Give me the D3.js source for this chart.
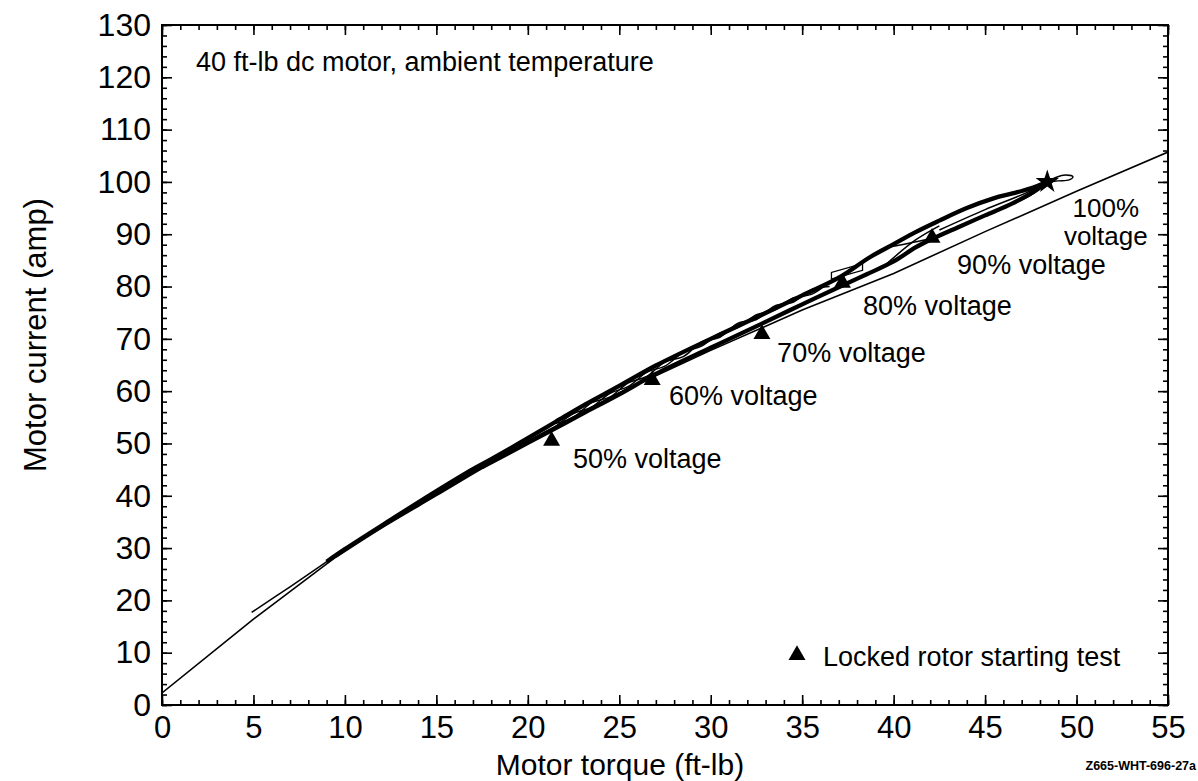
<!DOCTYPE html>
<html>
<head>
<meta charset="utf-8">
<script src="https://cdn.jsdelivr.net/npm/d3@7"></script>
<style>
  html, body { margin: 0; padding: 0; background: #fff; }
  svg { display: block; }
  text { font-family: "Liberation Sans", Arial, Helvetica, sans-serif; fill: #000; }
</style>
</head>
<body>
<svg id="chart" width="1198" height="781"></svg>
<script>
// ---------- data ----------
const xTicks = [0, 5, 10, 15, 20, 25, 30, 35, 40, 45, 50, 55];
const yTicks = [0, 10, 20, 30, 40, 50, 60, 70, 80, 90, 100, 110, 120, 130];

// fitted (thin) line: torque vs current
const fitTorque  = [0, 5, 10, 15, 20, 25, 30, 35, 40, 45, 50, 55];
const fitCurrent = [2.3, 16.4, 29.6, 40.8, 50.5, 59.7, 67.8, 75.5, 82.5, 90.5, 98.2, 105.7];

// measured traces
const traceStartThin = [[4.9,17.7],[7,22.6],[10,29.8]];
const traceUpper = [[9,27.4],[10,29.8],[12.5,35.4],[15,40.9],[17,45.1],[18,47.0],[20,51.0],[21.5,54.1],[23,57.2],[25,61.0],[27,64.9],[30,70.0],[32.8,74.6],[35,78.3],[37,81.7],[38.7,85.6],[40,88.1],[41.2,90.4],[42.5,92.6],[44,95.0],[45.5,96.9],[46.5,97.8],[47.5,98.8],[48.4,100]];
const traceSecond = [[9.5,28.4],[12,34],[15,40.2],[17.5,45.4],[20,50.2]];
const traceLower = [[17.5,45.5],[20,50.1],[21.5,52.9],[23,55.7],[25,59.4],[27,63.3],[30,68.3],[32.8,72.9],[35,76.6],[37.2,80.2],[38.5,82.3],[40,84.8],[41.2,87.5],[42.1,89.1],[43.5,91.3],[45,93.6],[46.5,95.9],[47.6,98],[48.4,100]];
const traceWiggleA = [[21.5,53.2],[22.5,55.7],[23.5,57.0],[24.5,59.6],[25.5,60.9],[26.5,63.6],[27.5,64.8],[28.5,67.4],[29.5,68.6],[30.5,71.1],[31.5,72.2],[32.5,74.6],[33.5,75.5],[34.5,77.8],[35.5,78.5],[36.5,80.9]];
const traceWiggleB = [[21.5,53.8],[22.5,55.0],[23.5,57.8],[24.5,58.9],[25.5,61.6],[26.5,62.8],[27.5,65.6],[28.5,66.6],[29.5,69.4],[30.5,70.3],[31.5,73.0],[32.5,73.7],[33.5,76.3],[34.5,77.0],[35.5,79.4],[36.5,80.0]];
const traceCrossA = [[39.6,84.3],[41.2,88.9],[42.5,91.6]];
const traceCrossB = [[39.7,87.5],[41.3,88.6],[42.6,89.7]];
const traceInnerA = [[42.5,90.8],[45,94.7],[47.3,98.0],[48.4,100]];
const traceInnerB = [[42.8,90.3],[45.3,94.1],[47.5,97.5],[48.4,100]];
const traceBox = [[36.6,81.4],[36.6,82.7],[38.3,84.4],[38.3,83.1],[36.6,81.4]];
const traceEndLoop = [[48.4,100],[48.9,100.9],[49.4,101.3],[49.8,101],[49.6,100.4],[49,100.2],[48.4,100]];

// locked rotor starting test points
const lockedTorque  = [21.3, 26.8, 32.8, 37.2, 42.1];
const lockedCurrent = [50.5, 62.1, 70.9, 80.7, 89.3];
const starPoint = [48.4, 100.0];

// voltage annotations (anchor in data units)
const voltLabels = ["50% voltage", "60% voltage", "70% voltage", "80% voltage", "90% voltage"];
const voltLabelX = [22.47, 27.72, 33.63, 38.33, 43.47];
const voltLabelY = [45.3, 57.35, 65.57, 74.56, 82.4];
const topLabelLines = ["100%", "voltage"];
const topLabelX = 51.6;
const topLabelY = [93.3, 88.0];

// ---------- layout ----------
const svg = d3.select("#chart");
const L = 162, R = 1168, T = 25, B = 705;
const x = d3.scaleLinear().domain([0, 55]).range([L, R]);
const y = d3.scaleLinear().domain([0, 130]).range([B, T]);

svg.append("rect").attr("width", 1198).attr("height", 781).attr("fill", "#fff");

// ---------- axes ----------
const font = '"Liberation Sans", Arial, Helvetica, sans-serif';
const minorX = d3.range(0, 56, 1);
const minorY = d3.range(0, 131, 2);

function styleAxis(g) {
  g.select(".domain").remove();
  g.selectAll(".tick line").attr("stroke", "#000").attr("stroke-width", 1.6);
}

// bottom
svg.append("g").attr("transform", `translate(0,${B})`)
  .call(d3.axisBottom(x).tickValues(minorX).tickSize(-5).tickFormat(""))
  .call(styleAxis);
svg.append("g").attr("transform", `translate(0,${B})`)
  .call(d3.axisBottom(x).tickValues(xTicks).tickSize(-10).tickPadding(11).tickFormat(d3.format("d")))
  .call(styleAxis)
  .call(g => g.selectAll("text").attr("font-size", 31).attr("font-family", font).attr("fill", "#000"));
// top
svg.append("g").attr("transform", `translate(0,${T})`)
  .call(d3.axisTop(x).tickValues(minorX).tickSize(-5).tickFormat("")).call(styleAxis);
svg.append("g").attr("transform", `translate(0,${T})`)
  .call(d3.axisTop(x).tickValues(xTicks).tickSize(-10).tickFormat("")).call(styleAxis);
// left
svg.append("g").attr("transform", `translate(${L},0)`)
  .call(d3.axisLeft(y).tickValues(minorY).tickSize(-5).tickFormat("")).call(styleAxis);
svg.append("g").attr("transform", `translate(${L},0)`)
  .call(d3.axisLeft(y).tickValues(yTicks).tickSize(-10).tickPadding(11).tickFormat(d3.format("d")))
  .call(styleAxis)
  .call(g => g.selectAll("text").attr("font-size", 32).attr("font-family", font).attr("fill", "#000"));
// right
svg.append("g").attr("transform", `translate(${R},0)`)
  .call(d3.axisRight(y).tickValues(minorY).tickSize(-5).tickFormat("")).call(styleAxis);
svg.append("g").attr("transform", `translate(${R},0)`)
  .call(d3.axisRight(y).tickValues(yTicks).tickSize(-10).tickFormat("")).call(styleAxis);

// frame
svg.append("rect").attr("x", L).attr("y", T).attr("width", R - L).attr("height", B - T)
  .attr("fill", "none").attr("stroke", "#000").attr("stroke-width", 2);

// axis titles
svg.append("text").attr("x", 620).attr("y", 775).attr("text-anchor", "middle")
  .attr("font-size", 30).text("Motor torque (ft-lb)");
svg.append("text").attr("transform", `translate(46,${(T + B) / 2 - 30}) rotate(-90)`)
  .attr("text-anchor", "middle").attr("font-size", 31).text("Motor current (amp)");

// ---------- plot content ----------
const plot = svg.append("g");
plot.append("defs").append("clipPath").attr("id", "clip")
  .append("rect").attr("x", L).attr("y", T).attr("width", R - L).attr("height", B - T);
const inner = plot.append("g").attr("clip-path", "url(#clip)");

const straight = d3.line().x(d => x(d[0])).y(d => y(d[1]));
const curved = d3.line().x(d => x(d[0])).y(d => y(d[1])).curve(d3.curveCatmullRom);

// fitted line
inner.append("path").datum(d3.zip(fitTorque, fitCurrent)).attr("d", straight)
  .attr("fill", "none").attr("stroke", "#000").attr("stroke-width", 1.6);

const thick = [traceUpper, traceLower];
const medium = [traceSecond];
const thin = [traceStartThin, traceWiggleA, traceWiggleB, traceCrossA, traceCrossB, traceInnerA, traceInnerB, traceEndLoop];

thick.forEach(t => inner.append("path").datum(t).attr("d", curved)
  .attr("fill", "none").attr("stroke", "#000").attr("stroke-width", 4.3).attr("stroke-linejoin", "round"));
medium.forEach(t => inner.append("path").datum(t).attr("d", curved)
  .attr("fill", "none").attr("stroke", "#000").attr("stroke-width", 3.2));
thin.forEach(t => inner.append("path").datum(t).attr("d", curved)
  .attr("fill", "none").attr("stroke", "#000").attr("stroke-width", 1.5));
inner.append("path").datum(traceBox).attr("d", straight)
  .attr("fill", "none").attr("stroke", "#000").attr("stroke-width", 1.3);

// locked rotor markers
const tri = d3.symbol().type(d3.symbolTriangle).size(125);
inner.selectAll(".lr").data(d3.zip(lockedTorque, lockedCurrent)).join("path")
  .attr("class", "lr").attr("d", tri)
  .attr("transform", d => `translate(${x(d[0])},${y(d[1])})`).attr("fill", "#000");
inner.append("path").attr("d", d3.symbol().type(d3.symbolStar).size(170))
  .attr("transform", `translate(${x(starPoint[0])},${y(starPoint[1])})`).attr("fill", "#000");

// annotations
svg.append("text").attr("x", 196).attr("y", 71).attr("font-size", 27)
  .text("40 ft-lb dc motor, ambient temperature");

svg.selectAll(".vl").data(voltLabels).join("text").attr("class", "vl")
  .attr("x", (d, i) => x(voltLabelX[i])).attr("y", (d, i) => y(voltLabelY[i]))
  .attr("font-size", 27).text(d => d);
svg.selectAll(".tl").data(topLabelLines).join("text").attr("class", "tl")
  .attr("x", x(topLabelX)).attr("y", (d, i) => y(topLabelY[i]))
  .attr("text-anchor", "middle").attr("font-size", 26).text(d => d);

// legend
svg.append("path").attr("d", tri).attr("transform", "translate(797,655)").attr("fill", "#000");
svg.append("text").attr("x", 823).attr("y", 666).attr("font-size", 27).text("Locked rotor starting test");

// figure id
svg.append("text").attr("x", 1196).attr("y", 770).attr("text-anchor", "end")
  .attr("font-size", 12.5).attr("font-weight", "bold").text("Z665-WHT-696-27a");
</script>
</body>
</html>
